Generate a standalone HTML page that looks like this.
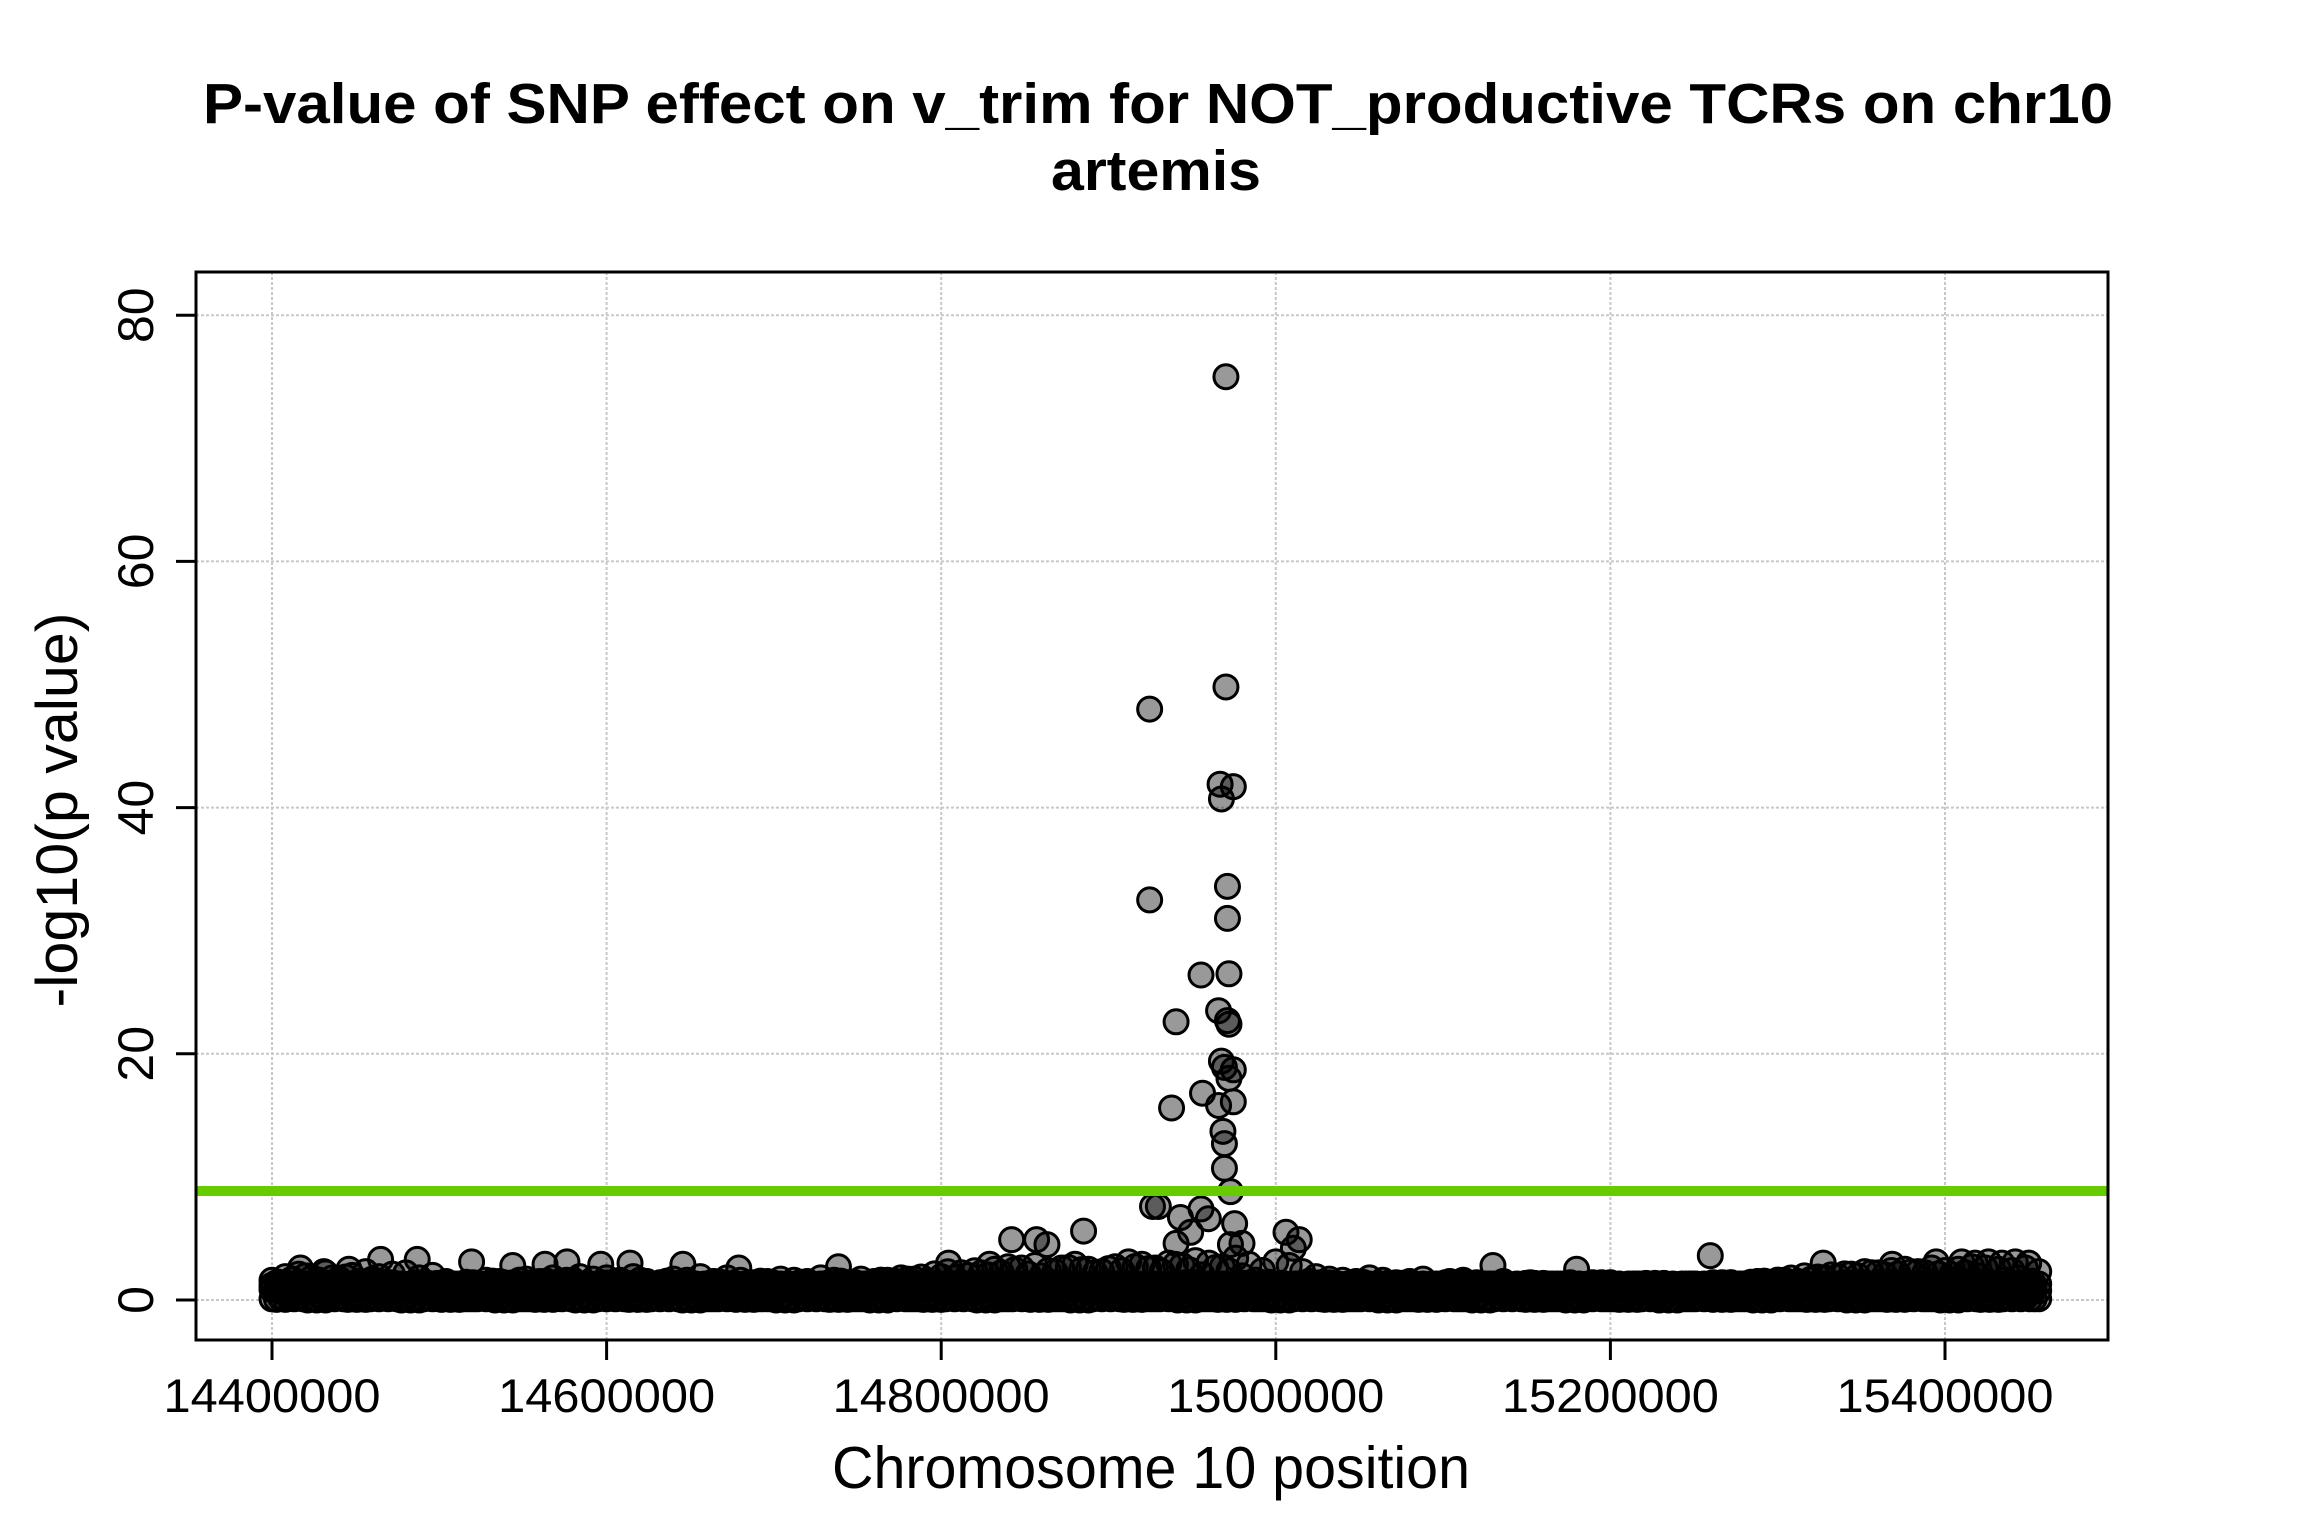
<!DOCTYPE html>
<html><head><meta charset="utf-8">
<style>
html,body{margin:0;padding:0;background:#fff;}
svg{display:block;}
text{font-family:"Liberation Sans",sans-serif;fill:#000;}
</style></head>
<body>
<svg id="chart" width="2304" height="1536" viewBox="0 0 2304 1536" xmlns="http://www.w3.org/2000/svg">
  <rect x="0" y="0" width="2304" height="1536" fill="#fff"/>
  <text x="1158" y="123" text-anchor="middle" font-size="57" font-weight="bold" textLength="1910" lengthAdjust="spacingAndGlyphs">P-value of SNP effect on v_trim for NOT_productive TCRs on chr10</text>
  <text x="1156" y="190" text-anchor="middle" font-size="57" font-weight="bold" textLength="210" lengthAdjust="spacingAndGlyphs">artemis</text>
  <g id="grid"></g>
  <g id="points"></g>
  <g id="axes"></g>
  <text x="1151" y="1488" text-anchor="middle" font-size="59" textLength="638" lengthAdjust="spacingAndGlyphs">Chromosome 10 position</text>
  <text transform="translate(77,810) rotate(-90)" text-anchor="middle" font-size="58" textLength="395" lengthAdjust="spacingAndGlyphs">-log10(p value)</text>
</svg>
<script>
// ---- data ----
const xTicks = [14400000, 14600000, 14800000, 15000000, 15200000, 15400000];
const yTicks = [0, 20, 40, 60, 80];
const threshold = 8.85;
// dense background band (positions in kb)
const basePosKb = [14400,14408,14416,14424,14432,14440,14448,14456,14464,14472,
14480,14488,14496,14504,14512,14520,14528,14536,14544,14552,
14560,14568,14576,14584,14592,14600,14608,14616,14624,14632,
14640,14648,14656,14664,14672,14680,14688,14696,14704,14712,
14720,14728,14736,14744,14752,14760,14768,14776,14784,14792,
14800,14808,14816,14824,14832,14840,14848,14856,14864,14872,
14880,14888,14896,14904,14912,14920,14928,14936,14944,14952,
14960,14968,14976,14984,14992,15000,15008,15016,15024,15032,
15040,15048,15056,15064,15072,15080,15088,15096,15104,15112,
15120,15128,15136,15144,15152,15160,15168,15176,15184,15192,
15200,15208,15216,15224,15232,15240,15248,15256,15264,15272,
15280,15288,15296,15304,15312,15320,15328,15336,15344,15352,
15360,15368,15376,15384,15392,15400,15408,15416,15424,15432,
15440,15448,15456];
const baseLow = [0.1,0.05,0.15,0.1,0.0,0.2,0.1,0.05,0.1,0.15,
0.1,0.0,0.1,0.2,0.05,0.1,0.1,0.15,0.0,0.1,
0.1,0.05,0.2,0.1,0.0,0.1,0.15,0.1,0.05,0.1,
0.2,0.1,0.0,0.1,0.1,0.15,0.05,0.1,0.1,0.0,
0.1,0.2,0.1,0.05,0.1,0.1,0.0,0.15,0.1,0.1,
0.05,0.1,0.2,0.1,0.0,0.1,0.1,0.15,0.05,0.1,
0.1,0.0,0.1,0.2,0.1,0.05,0.1,0.1,0.15,0.0,
0.1,0.1,0.05,0.2,0.1,0.1,0.0,0.1,0.15,0.1,
0.05,0.1,0.1,0.2,0.0,0.1,0.1,0.05,0.15,0.1,
0.1,0.0,0.1,0.2,0.1,0.05,0.1,0.1,0.0,0.15,
0.1,0.1,0.05,0.1,0.2,0.0,0.1,0.1,0.15,0.05,
0.1,0.1,0.0,0.2,0.1,0.1,0.05,0.1,0.15,0.0,
0.1,0.1,0.05,0.2,0.1,0.1,0.0,0.15,0.1,0.05,
0.1,0.2,0.1];
const baseMid = [1.6,1.9,2.1,1.8,2.2,1.7,2.0,2.3,1.9,2.1,
2.2,1.8,2.0,1.5,1.3,1.4,1.6,1.5,1.3,1.7,
1.5,1.8,1.6,1.9,1.7,1.8,1.6,1.9,1.5,1.4,
1.7,1.6,1.9,1.5,1.8,1.6,1.4,1.5,1.7,1.6,
1.5,1.8,1.6,1.4,1.7,1.5,1.6,1.8,1.7,1.5,
1.9,1.8,2.0,2.2,2.5,2.7,2.6,2.8,2.4,2.6,
2.9,2.5,2.3,2.7,3.1,2.9,2.6,3.0,2.8,3.2,
3.0,2.7,3.4,2.9,2.4,3.1,2.8,2.3,1.9,1.7,
1.6,1.5,1.8,1.6,1.4,1.5,1.7,1.3,1.5,1.6,
1.4,1.3,1.5,1.2,1.4,1.3,1.2,1.4,1.1,1.3,
1.2,1.1,1.3,1.2,1.0,1.2,1.3,1.1,1.2,1.4,
1.3,1.5,1.4,1.6,1.5,1.7,1.8,1.9,2.1,2.3,
2.2,2.4,2.5,2.3,2.6,2.4,2.5,2.7,2.6,2.5,
2.4,2.6,2.3];
// scattered / peak SNPs
const snpPos = [14970200,14924600,14970200,14966700,14974600,14967500,14924600,14971100,14971100,
14955300,14972000,14940400,14965800,14971100,14972000,14937700,14956200,14965800,14974600,
14967500,14969300,14974600,14972000,14968400,14969300,14969300,14972900,
14926300,14929800,14943000,14955300,14959700,14949100,14940400,14975400,14972900,14979800,
14885100,14842100,14857000,14863200,15259700,15006100,15014000,15010500,
14464900,14486800,14519300,14543900,14563200,14576300,14596500,14614000,14645600,14679000,
14738600,14804400,14828900,15129800,15179800,15327200,15368400,15394700,
15410000,15418000,15426000,15434000,15442000,15450000,14417000,14431000,14446000];
const snpVal = [75.0,48.0,49.8,41.9,41.7,40.7,32.5,33.6,31.0,
26.4,26.5,22.6,23.5,22.7,22.4,15.6,16.8,15.8,16.1,
19.4,18.9,18.7,18.0,13.7,12.7,10.7,8.8,
7.6,7.6,6.7,7.4,6.6,5.5,4.6,6.2,4.5,4.6,
5.6,4.9,4.9,4.5,3.6,5.5,4.9,4.2,
3.3,3.3,3.1,2.8,2.9,3.1,2.9,3.0,2.9,2.6,
2.7,3.0,2.9,2.8,2.5,3.0,2.9,3.1,
3.1,3.0,3.1,3.0,3.1,3.0,2.6,2.3,2.5];

// ---- scales ----
const NS = 'http://www.w3.org/2000/svg';
const plotL = 196, plotR = 2108, plotT = 272, plotB = 1340;
function xScale(v){ return 272 + (v - 14400000) * (1673 / 1000000); }
function yScale(v){ return 1300 - v * 12.31; }
function mk(tag, attrs, parent){
  const el = document.createElementNS(NS, tag);
  for (const k in attrs) el.setAttribute(k, attrs[k]);
  parent.appendChild(el);
  return el;
}
const grid = document.getElementById('grid');
const pts = document.getElementById('points');
const axes = document.getElementById('axes');

xTicks.forEach(t => {
  const l = mk('line', {x1:xScale(t), x2:xScale(t), y1:plotT, y2:plotB, stroke:'#c8c8c8', 'stroke-width':2, 'stroke-dasharray':'3 2'}, grid);
  
  
});
yTicks.forEach(t => {
  const l = mk('line', {x1:plotL, x2:plotR, y1:yScale(t), y2:yScale(t), stroke:'#c8c8c8', 'stroke-width':2, 'stroke-dasharray':'3 2'}, grid);
  
  
});

function dot(x, v){
  const c = mk('circle', {cx:xScale(x), cy:yScale(v), r:12, fill:'rgba(0,0,0,0.4)', stroke:'#000', 'stroke-width':3}, pts);
  
  
}
const n = basePosKb.length;
// elevated-but-low scatter layer
basePosKb.forEach((p, i) => dot(p * 1000, baseMid[i]));
basePosKb.forEach((p, i) => { if (p * 1000 + 4000 <= 15456000) dot(p * 1000 + 4000, baseMid[(i + 5) % n] * 0.85); });
snpPos.forEach((p, i) => dot(p, snpVal[i]));
// dense band
[0, 2.7, 5.3].forEach((off, k) => {
  basePosKb.forEach((p, i) => {
    const x = (p + off) * 1000;
    if (x > 15458000) return;
    dot(x, baseLow[(i + k) % n]);
    dot(x, baseLow[(i + k + 2) % n] + 0.7);
    dot(x, baseLow[(i + k + 4) % n] + 1.2);
  });
});

const th = mk('line', {x1:plotL, x2:plotR, y1:yScale(threshold), y2:yScale(threshold), stroke:'#66cc00', 'stroke-width':10}, pts);



const box = mk('rect', {x:plotL, y:plotT, width:plotR-plotL, height:plotB-plotT, fill:'none', stroke:'#000', 'stroke-width':3}, axes);



xTicks.forEach(t => {
  const tk = mk('line', {x1:xScale(t), x2:xScale(t), y1:plotB, y2:plotB+20, stroke:'#000', 'stroke-width':3}, axes);
  
  
  const lb = mk('text', {x:xScale(t), y:1412, 'text-anchor':'middle', 'font-size':47, textLength:217, lengthAdjust:'spacingAndGlyphs'}, axes);
  lb.textContent = String(t);
  
  
});
yTicks.forEach(t => {
  const tk = mk('line', {x1:plotL-20, x2:plotL, y1:yScale(t), y2:yScale(t), stroke:'#000', 'stroke-width':3}, axes);
  
  
  const lb = mk('text', {transform:'translate(153,' + yScale(t) + ') rotate(-90)', 'text-anchor':'middle', 'font-size':50}, axes);
  lb.textContent = String(t);
  
  
});
</script>
</body></html>
